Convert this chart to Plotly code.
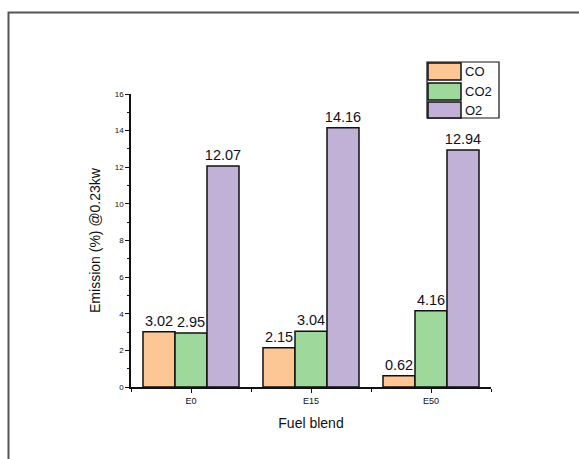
import plotly.graph_objects as go

# Emission data per fuel blend
fuel_blends = ["E0", "E15", "E50"]
gases = ["CO", "CO2", "O2"]
co_values = [3.02, 2.15, 0.62]
co2_values = [2.95, 3.04, 4.16]
o2_values = [12.07, 14.16, 12.94]
y_ticks = [0, 2, 4, 6, 8, 10, 12, 14, 16]

series_values = [co_values, co2_values, o2_values]
bar_colors = ["#FCC795", "#9FD89B", "#C1B1D7"]

W, H = 579, 459
L, R, T, B = 131, 88, 94, 72
pw, ph = W - L - R, H - T - B


def px_x(p):
    return (p - L) / pw


def px_y(p):
    return (H - B - p) / ph


xpos = list(range(len(fuel_blends)))

fig = go.Figure()
for name, vals, col in zip(gases, series_values, bar_colors):
    fig.add_trace(go.Bar(
        x=xpos, y=vals, name=name,
        marker=dict(color=col, line=dict(color="#111111", width=1.5)),
        text=[f"{v:.2f}" for v in vals], textposition="outside",
        textfont=dict(family="Liberation Sans, Arial", size=14.5, color="#111122"),
        constraintext="none", cliponaxis=False, showlegend=False,
    ))

fig.update_layout(
    width=W, height=H,
    margin=dict(l=L, r=R, t=T, b=B),
    paper_bgcolor="white", plot_bgcolor="white",
    barmode="group", bargap=0.2, bargroupgap=0,
    font=dict(family="Liberation Sans, Arial", color="#111111"),
    xaxis=dict(
        range=[-0.5, len(fuel_blends) - 0.5],
        tickvals=xpos, ticktext=fuel_blends,
        ticks="outside", ticklen=4, tickwidth=1.2, tickcolor="#111111",
        tickfont=dict(size=9, color="#111111"),
        showline=True, linecolor="#111111", linewidth=1.5,
        showgrid=False, zeroline=False,
        minor=dict(tickvals=[i + 0.5 for i in range(-1, len(fuel_blends))],
                   ticks="outside", ticklen=3, tickwidth=1.2, tickcolor="#111111"),
        title=dict(text="Fuel blend", font=dict(size=14), standoff=14),
    ),
    yaxis=dict(
        range=[0, 16], tickvals=y_ticks,
        ticks="outside", ticklen=4, tickwidth=1.2, tickcolor="#111111",
        tickfont=dict(size=8, color="#111111"),
        showline=True, linecolor="#111111", linewidth=1.5,
        showgrid=False, zeroline=False,
        minor=dict(dtick=1, ticks="outside", ticklen=2, tickwidth=1, tickcolor="#111111"),
        title=dict(text="Emission (%) @0.23kw", font=dict(size=14), standoff=11),
    ),
)

# Outer frame around the figure
fig.add_shape(type="rect", xref="paper", yref="paper",
              x0=px_x(8.5), x1=px_x(600), y0=px_y(480), y1=px_y(12.5),
              line=dict(color="#555555", width=2), fillcolor="rgba(0,0,0,0)")

# Boxed legend with large swatches
lx0, lx_sw, lx1 = 427, 461, 499
row_tops = [62, 82, 101]
row_h = [18, 18, 17]
fig.add_shape(type="rect", xref="paper", yref="paper",
              x0=px_x(lx0), x1=px_x(lx1), y0=px_y(118), y1=px_y(62),
              line=dict(color="#111111", width=1.2), fillcolor="white")
for name, col, top, h in zip(gases, bar_colors, row_tops, row_h):
    fig.add_shape(type="rect", xref="paper", yref="paper",
                  x0=px_x(lx0 + 1), x1=px_x(lx_sw), y0=px_y(top + h), y1=px_y(top + 1),
                  line=dict(color="#111111", width=1.5), fillcolor=col)
    fig.add_annotation(xref="paper", yref="paper", x=px_x(lx_sw + 2), y=px_y(top + h / 2 + 0.5),
                       text=name, showarrow=False, xanchor="left", yanchor="middle",
                       font=dict(size=13, color="#111122"))

fig.write_html("out.html")
